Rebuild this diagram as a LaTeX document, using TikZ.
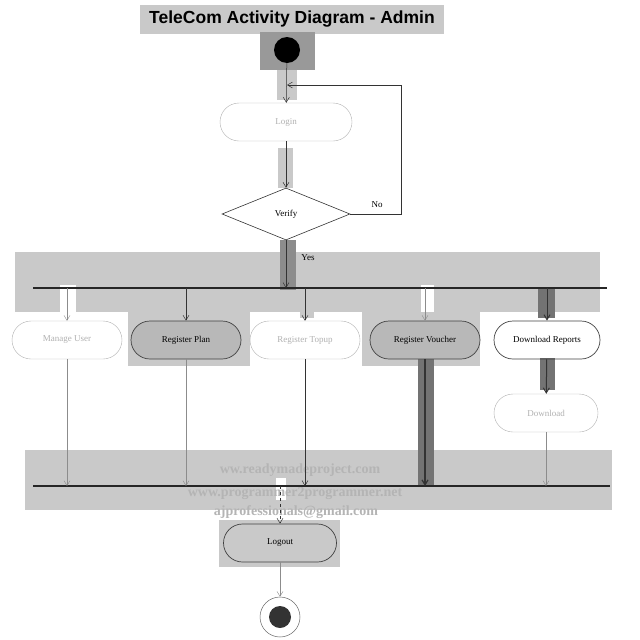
\documentclass[tikz,border=0pt]{standalone}
\usepackage{fontspec}
\setmainfont{Liberation Serif}
\setsansfont{Liberation Sans}
\usetikzlibrary{shapes.geometric,arrows.meta}
\definecolor{band}{HTML}{C9C9C9}
\definecolor{dband}{HTML}{8C8C8C}
\definecolor{fade}{HTML}{B0B0B0}
\definecolor{wm}{HTML}{B4B4B4}
\tikzset{
  act/.style={rounded corners=19pt, minimum width=110pt, minimum height=38pt, draw=black!75, line width=0.7pt, font=\fontsize{9}{10}\selectfont, inner sep=2pt},
  faded/.style={draw=fade, text=fade, line width=0.4pt},
  grayact/.style={fill=black!28},
  flow/.style={draw=black!80, line width=0.5pt, -{Straight Barb[length=5pt,width=6pt]}},
  thinflow/.style={draw=black!45, line width=0.4pt, -{Straight Barb[length=5pt,width=6pt]}},
  bar/.style={line width=2pt, draw=black!85},
  lbl/.style={font=\fontsize{9}{10}\selectfont},
  wmark/.style={font=\fontsize{14}{15}\selectfont\bfseries, text=wm}
}
\begin{document}
\begin{tikzpicture}[x=1pt,y=-1pt]
\useasboundingbox (0,0) rectangle (640,640);
% background bands
\fill[band] (140,5) rectangle (444,34);
\fill[black!40] (260,32) rectangle (315,70);
\fill[band] (277,70) rectangle (297,100);
\fill[band] (278,148) rectangle (293,188);
\fill[band] (15,252) rectangle (600,312);
\fill[dband] (280,240) rectangle (296,290);
\fill[black!55] (538,288) rectangle (555,318);
\fill[white] (60,285) rectangle (76,312);
\fill[white] (421,285) rectangle (434,312);
\fill[band] (178,288) rectangle (196,318);
\fill[band] (300,288) rectangle (314,318);
\fill[band] (128,312) rectangle (250,366);
\fill[band] (362,312) rectangle (480,366);
\fill[black!55] (540,358) rectangle (555,390);
\fill[band] (25,450) rectangle (612,510);
\fill[black!55] (418,358) rectangle (434,485);
\fill[band] (219,520) rectangle (340,567);
\fill[white] (276,478) rectangle (286,500);
% watermark
\node[wmark] (wm1) at (300,470) {ww.readymadeproject.com};
\node[wmark] (wm2) at (295,493) {www.programmer2programmer.net};
\node[wmark] (wm3) at (296,512) {ajprofessionals@gmail.com};
% title
\node[font=\fontsize{17.5}{19}\selectfont\sffamily\bfseries] (title) at (292,19) {TeleCom Activity Diagram - Admin};
% start
\node[circle, fill=black, minimum size=26pt, inner sep=0pt] (start) at (287,50) {};
% login
\node[act, faded, minimum width=132pt, rounded corners=19pt] (login) at (286,122) {Login};
% verify
\node[diamond, draw=black!80, line width=0.6pt, aspect=2.5, minimum width=128pt, minimum height=52pt, inner sep=0pt, lbl] (verify) at (286,214) {Verify};
% fork bar
\coordinate (forkL) at (33,288);
\coordinate (forkR) at (607,288);
\draw[bar] (forkL) -- (forkR);
% activities
\node[act, faded] (manage) at (67,340) {Manage User};
\node[act, grayact] (plan) at (186,340) {Register Plan};
\node[act, faded] (topup) at (305,340) {Register Topup};
\node[act, grayact] (voucher) at (425,340) {Register Voucher};
\node[act, minimum width=106pt] (download) at (547,340) {Download Reports};
\node[act, faded, minimum width=104pt] (dl) at (546,413) {Download};
% join bar
\coordinate (joinL) at (33,486);
\coordinate (joinR) at (610,486);
\draw[bar] (joinL) -- (joinR);
% logout and end
\node[act, minimum width=113pt] (logout) at (280,543) {Logout};
\node[circle, draw=black!60, line width=0.5pt, minimum size=40pt, inner sep=0pt] (end) at (280,617) {};
\node[circle, fill=black!80, minimum size=22pt, inner sep=0pt] (endin) at (280,617) {};
% flows
\draw[flow] (start) -- (login);
\coordinate (loopA) at (401,214);
\coordinate (loopB) at (401,85);
\coordinate (loopC) at (287,85);
\draw[flow] (verify.east) -- (loopA) -- (loopB) -- (loopC);
\node[lbl] (no) at (377,205) {No};
\draw[flow] (login) -- (verify);
\draw[flow] (verify.south) -- (286,288);
\node[lbl] (yes) at (308,258) {Yes};
\draw[thinflow] (67,288) -- (manage.north);
\draw[flow] (186,288) -- (plan.north);
\draw[flow] (305,288) -- (topup.north);
\draw[thinflow] (425,288) -- (voucher.north);
\draw[flow, line width=1pt] (547,288) -- (download.north);
\draw[flow, line width=1pt] (download) -- (dl);
\draw[thinflow] (manage.south) -- (67,486);
\draw[thinflow] (plan.south) -- (186,486);
\draw[flow] (topup.south) -- (305,486);
\draw[flow, line width=1.2pt] (voucher.south) -- (425,486);
\draw[thinflow] (dl.south) -- (546,486);
\draw[flow, dashed] (280,486) -- (logout.north);
\draw[thinflow] (logout) -- (end);
\end{tikzpicture}
\end{document}
